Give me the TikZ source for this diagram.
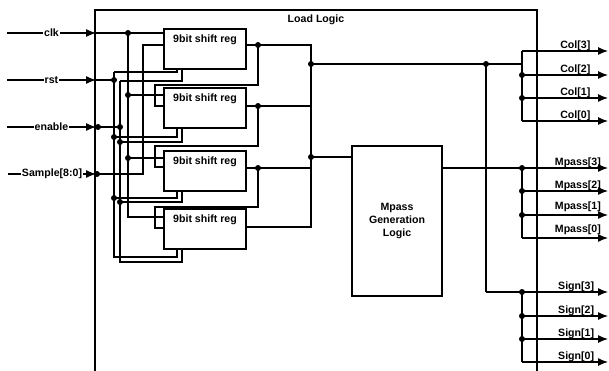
\documentclass[tikz,border=0pt]{standalone}
\usepackage{fontspec}
\setmainfont{Liberation Sans}
\usetikzlibrary{arrows.meta, positioning}

\begin{document}
\begin{tikzpicture}[
  x=1pt, y=-1pt,
  wire/.style={line width=1.2pt},
  edge/.style={wire, -{Latex[length=10pt, width=8pt]}},
  dot/.style={circle, fill, inner sep=0pt, minimum size=6pt},
  sig/.style={font=\fontsize{10.6}{12}\selectfont\bfseries, inner sep=0pt},
  reg/.style={draw, line width=1.4pt, fill=white, minimum width=82pt, minimum height=40pt, inner sep=0pt, outer sep=0pt},
  block/.style={draw, line width=1.4pt, minimum width=90pt, minimum height=150pt, align=center, font=\fontsize{10.6}{13}\selectfont\bfseries}
]
\useasboundingbox (0,0) rectangle (609,371);

\draw[wire] (95,371) |- (537,10) -- (537,371);
\node[sig] (title) at (316,20) {Load Logic};

\node[reg] (reg1) at (205,49) {};
\node[reg, below=19pt of reg1] (reg2) {};
\node[reg, below=23pt of reg2] (reg3) {};
\node[reg, below=18pt of reg3] (reg4) {};
\foreach \r in {1,2,3,4}
  \node[sig, below=5.5pt of reg\r.north] (name\r) {9bit shift reg};

\node[block] (mpass) at (397,221) {Mpass\\Generation\\Logic};

\coordinate (clkin) at (7,33);
\coordinate (clkport) at (96,33);
\coordinate (rstin) at (7,80);
\coordinate (rstport) at (96,80);
\coordinate (enin) at (7,127);
\coordinate (enport) at (96,127);
\coordinate (smpin) at (8,174);
\coordinate (smpport) at (96,174);

\coordinate (clk1) at (128,33);
\coordinate (clk2) at (128,95);
\coordinate (clk3) at (128,158);
\coordinate (clk4) at (128,217);
\coordinate (rst1) at (114,80);
\coordinate (rsttop) at (114,72);
\coordinate (rst2) at (114,137);
\coordinate (rst3) at (114,198);
\coordinate (rst4) at (114,257);
\coordinate (endot) at (98,127);
\coordinate (en1) at (120,127);
\coordinate (entop) at (120,81);
\coordinate (en2) at (120,142);
\coordinate (en3) at (120,202);
\coordinate (en4) at (120,262);
\coordinate (smpdot) at (97,174);
\coordinate (smpturn) at (143,174);
\coordinate (smptop) at (143,45);

\coordinate (q1) at (258,45);
\coordinate (q2) at (258,106);
\coordinate (q3) at (258,168);
\coordinate (q4) at (258,227);
\coordinate (back1) at (155,85);
\coordinate (load2) at (155,106);
\coordinate (back2) at (155,146);
\coordinate (load3) at (155,167);
\coordinate (back3) at (155,207);
\coordinate (load4) at (155,228);

\coordinate (bustop) at (311,45);
\coordinate (busbot) at (311,227);
\coordinate (busa) at (311,64);
\coordinate (busb) at (311,157);
\coordinate (signfork) at (486,64);
\coordinate (colfork) at (522,64);
\coordinate (signturn) at (486,292);

\draw[edge] (clkin) -- node[sig, fill=white, inner xsep=1pt] (clklab) {clk} (clkport);
\draw[edge] (rstin) -- node[sig, fill=white, inner xsep=1pt] (rstlab) {rst} (rstport);
\draw[edge] (enin) -- node[sig, fill=white, inner xsep=1pt] (enlab) {enable} (enport);
\draw[edge] (smpin) -- node[sig, fill=white, inner xsep=1pt] (smplab) {Sample[8:0]} (smpport);

\draw[wire] (clkport) -- (reg1.west |- clk1);
\draw[wire] (clk1) -- (clk4) -- (reg4.west |- clk4);
\draw[wire] (clk2) -- (reg2.west |- clk2);
\draw[wire] (clk3) -- (reg3.west |- clk3);

\draw[wire] (rstport) -- (rst1);
\draw[wire] (rsttop) -- (rst4) -| ([xshift=-28pt]reg4.south);
\draw[wire] (rsttop) -| ([xshift=-28pt]reg1.south);
\draw[wire] (rst2) -| ([xshift=-28pt]reg2.south);
\draw[wire] (rst3) -| ([xshift=-28pt]reg3.south);

\draw[wire] (enport) -- (en1);
\draw[wire] (entop) -- (en4) -| ([xshift=-23pt]reg4.south);
\draw[wire] (entop) -| ([xshift=-23pt]reg1.south);
\draw[wire] (en2) -| ([xshift=-23pt]reg2.south);
\draw[wire] (en3) -| ([xshift=-23pt]reg3.south);

\draw[wire] (smpport) -- (smpturn) -- (smptop) -- (reg1.west |- smptop);

\draw[wire] (reg1.east |- q1) -- (bustop) -- (busbot) -- (reg4.east |- busbot);
\draw[wire] (reg2.east |- q2) -- (busa |- q2);
\draw[wire] (reg3.east |- q3) -- (busa |- q3);
\draw[wire] (q1) |- (back1) -- (load2) -- (reg2.west |- load2);
\draw[wire] (q2) |- (back2) -- (load3) -- (reg3.west |- load3);
\draw[wire] (q3) |- (back3) -- (load4) -- (reg4.west |- load4);

\draw[wire] (busb) -- (mpass.west |- busb);
\draw[wire] (busa) -- (colfork);
\draw[wire] (signfork) -- (signturn);

\foreach \i/\y in {3/51,2/75,1/98,0/121} {
  \coordinate (col\i) at (522,\y);
  \coordinate (colout\i) at (608,\y);
  \draw[edge] (col\i) -- node[sig, above=0pt, pos=.62] (collab\i) {Col[\i]} (colout\i);
}
\foreach \i/\y/\lift in {3/168/0,2/191/0,1/215/3,0/238/3} {
  \coordinate (mp\i) at (522,\y);
  \coordinate (mpout\i) at (608,\y);
  \draw[edge] (mp\i) -- node[sig, above=\lift pt, pos=.65] (mplab\i) {Mpass[\i]} (mpout\i);
}
\foreach \i/\y in {3/292,2/316,1/339,0/362} {
  \coordinate (sign\i) at (522,\y);
  \coordinate (signout\i) at (608,\y);
  \draw[edge] (sign\i) -- node[sig, above=0pt, pos=.63] (signlab\i) {Sign[\i]} (signout\i);
}
\draw[wire] (col3) -- (col0);
\draw[wire] (mp3) -- (mp0);
\draw[wire] (sign3) -- (sign0);
\draw[wire] (mpass.east |- mp3) -- (mp3);
\draw[wire] (signturn) -- (sign3);

\foreach \p in {clk1,clk2,clk3,rst1,rst2,rst3,endot,en1,en2,en3,smpdot,q1,q2,q3,busa,busb,signfork,col2,col1,mp3,mp2,mp1,sign3,sign2,sign1}
  \node[dot] at (\p) {};
\end{tikzpicture}
\end{document}
